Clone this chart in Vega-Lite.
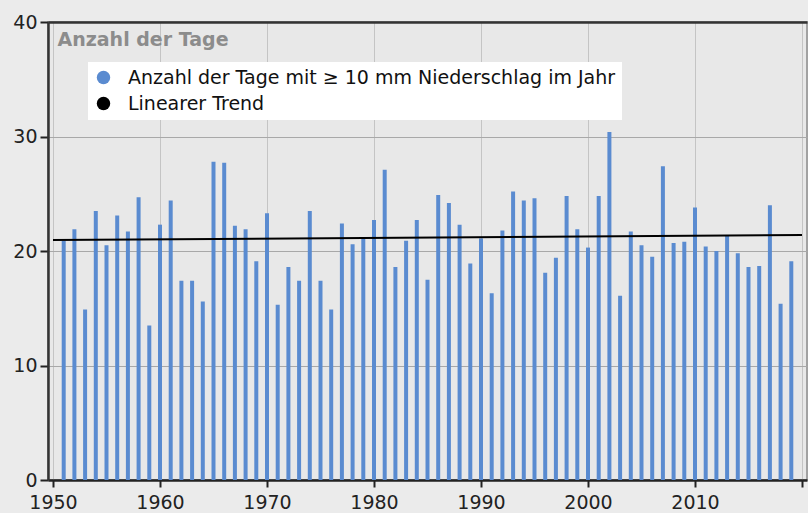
{
  "$schema": "https://vega.github.io/schema/vega-lite/v6.json",
  "width": 759,
  "height": 458,
  "autosize": {"type": "none"},
  "padding": {"left": 48, "top": 22, "right": 1, "bottom": 33},
  "background": "#ebebeb",
  "config": {
    "font": "DejaVu Sans",
    "view": {"fill": "#e8e8e8", "stroke": "#8a8a8a", "strokeWidth": 1.5}
  },
  "datasets": {
    "bars": [
      {"Jahr": 1951, "Tage": 20.9, "Serie": "Anzahl der Tage mit ≥ 10 mm Niederschlag im Jahr"},
      {"Jahr": 1952, "Tage": 21.9, "Serie": "Anzahl der Tage mit ≥ 10 mm Niederschlag im Jahr"},
      {"Jahr": 1953, "Tage": 14.9, "Serie": "Anzahl der Tage mit ≥ 10 mm Niederschlag im Jahr"},
      {"Jahr": 1954, "Tage": 23.5, "Serie": "Anzahl der Tage mit ≥ 10 mm Niederschlag im Jahr"},
      {"Jahr": 1955, "Tage": 20.5, "Serie": "Anzahl der Tage mit ≥ 10 mm Niederschlag im Jahr"},
      {"Jahr": 1956, "Tage": 23.1, "Serie": "Anzahl der Tage mit ≥ 10 mm Niederschlag im Jahr"},
      {"Jahr": 1957, "Tage": 21.7, "Serie": "Anzahl der Tage mit ≥ 10 mm Niederschlag im Jahr"},
      {"Jahr": 1958, "Tage": 24.7, "Serie": "Anzahl der Tage mit ≥ 10 mm Niederschlag im Jahr"},
      {"Jahr": 1959, "Tage": 13.5, "Serie": "Anzahl der Tage mit ≥ 10 mm Niederschlag im Jahr"},
      {"Jahr": 1960, "Tage": 22.3, "Serie": "Anzahl der Tage mit ≥ 10 mm Niederschlag im Jahr"},
      {"Jahr": 1961, "Tage": 24.4, "Serie": "Anzahl der Tage mit ≥ 10 mm Niederschlag im Jahr"},
      {"Jahr": 1962, "Tage": 17.4, "Serie": "Anzahl der Tage mit ≥ 10 mm Niederschlag im Jahr"},
      {"Jahr": 1963, "Tage": 17.4, "Serie": "Anzahl der Tage mit ≥ 10 mm Niederschlag im Jahr"},
      {"Jahr": 1964, "Tage": 15.6, "Serie": "Anzahl der Tage mit ≥ 10 mm Niederschlag im Jahr"},
      {"Jahr": 1965, "Tage": 27.8, "Serie": "Anzahl der Tage mit ≥ 10 mm Niederschlag im Jahr"},
      {"Jahr": 1966, "Tage": 27.7, "Serie": "Anzahl der Tage mit ≥ 10 mm Niederschlag im Jahr"},
      {"Jahr": 1967, "Tage": 22.2, "Serie": "Anzahl der Tage mit ≥ 10 mm Niederschlag im Jahr"},
      {"Jahr": 1968, "Tage": 21.9, "Serie": "Anzahl der Tage mit ≥ 10 mm Niederschlag im Jahr"},
      {"Jahr": 1969, "Tage": 19.1, "Serie": "Anzahl der Tage mit ≥ 10 mm Niederschlag im Jahr"},
      {"Jahr": 1970, "Tage": 23.3, "Serie": "Anzahl der Tage mit ≥ 10 mm Niederschlag im Jahr"},
      {"Jahr": 1971, "Tage": 15.3, "Serie": "Anzahl der Tage mit ≥ 10 mm Niederschlag im Jahr"},
      {"Jahr": 1972, "Tage": 18.6, "Serie": "Anzahl der Tage mit ≥ 10 mm Niederschlag im Jahr"},
      {"Jahr": 1973, "Tage": 17.4, "Serie": "Anzahl der Tage mit ≥ 10 mm Niederschlag im Jahr"},
      {"Jahr": 1974, "Tage": 23.5, "Serie": "Anzahl der Tage mit ≥ 10 mm Niederschlag im Jahr"},
      {"Jahr": 1975, "Tage": 17.4, "Serie": "Anzahl der Tage mit ≥ 10 mm Niederschlag im Jahr"},
      {"Jahr": 1976, "Tage": 14.9, "Serie": "Anzahl der Tage mit ≥ 10 mm Niederschlag im Jahr"},
      {"Jahr": 1977, "Tage": 22.4, "Serie": "Anzahl der Tage mit ≥ 10 mm Niederschlag im Jahr"},
      {"Jahr": 1978, "Tage": 20.6, "Serie": "Anzahl der Tage mit ≥ 10 mm Niederschlag im Jahr"},
      {"Jahr": 1979, "Tage": 21.1, "Serie": "Anzahl der Tage mit ≥ 10 mm Niederschlag im Jahr"},
      {"Jahr": 1980, "Tage": 22.7, "Serie": "Anzahl der Tage mit ≥ 10 mm Niederschlag im Jahr"},
      {"Jahr": 1981, "Tage": 27.1, "Serie": "Anzahl der Tage mit ≥ 10 mm Niederschlag im Jahr"},
      {"Jahr": 1982, "Tage": 18.6, "Serie": "Anzahl der Tage mit ≥ 10 mm Niederschlag im Jahr"},
      {"Jahr": 1983, "Tage": 20.9, "Serie": "Anzahl der Tage mit ≥ 10 mm Niederschlag im Jahr"},
      {"Jahr": 1984, "Tage": 22.7, "Serie": "Anzahl der Tage mit ≥ 10 mm Niederschlag im Jahr"},
      {"Jahr": 1985, "Tage": 17.5, "Serie": "Anzahl der Tage mit ≥ 10 mm Niederschlag im Jahr"},
      {"Jahr": 1986, "Tage": 24.9, "Serie": "Anzahl der Tage mit ≥ 10 mm Niederschlag im Jahr"},
      {"Jahr": 1987, "Tage": 24.2, "Serie": "Anzahl der Tage mit ≥ 10 mm Niederschlag im Jahr"},
      {"Jahr": 1988, "Tage": 22.3, "Serie": "Anzahl der Tage mit ≥ 10 mm Niederschlag im Jahr"},
      {"Jahr": 1989, "Tage": 18.9, "Serie": "Anzahl der Tage mit ≥ 10 mm Niederschlag im Jahr"},
      {"Jahr": 1990, "Tage": 21.1, "Serie": "Anzahl der Tage mit ≥ 10 mm Niederschlag im Jahr"},
      {"Jahr": 1991, "Tage": 16.3, "Serie": "Anzahl der Tage mit ≥ 10 mm Niederschlag im Jahr"},
      {"Jahr": 1992, "Tage": 21.8, "Serie": "Anzahl der Tage mit ≥ 10 mm Niederschlag im Jahr"},
      {"Jahr": 1993, "Tage": 25.2, "Serie": "Anzahl der Tage mit ≥ 10 mm Niederschlag im Jahr"},
      {"Jahr": 1994, "Tage": 24.4, "Serie": "Anzahl der Tage mit ≥ 10 mm Niederschlag im Jahr"},
      {"Jahr": 1995, "Tage": 24.6, "Serie": "Anzahl der Tage mit ≥ 10 mm Niederschlag im Jahr"},
      {"Jahr": 1996, "Tage": 18.1, "Serie": "Anzahl der Tage mit ≥ 10 mm Niederschlag im Jahr"},
      {"Jahr": 1997, "Tage": 19.4, "Serie": "Anzahl der Tage mit ≥ 10 mm Niederschlag im Jahr"},
      {"Jahr": 1998, "Tage": 24.8, "Serie": "Anzahl der Tage mit ≥ 10 mm Niederschlag im Jahr"},
      {"Jahr": 1999, "Tage": 21.9, "Serie": "Anzahl der Tage mit ≥ 10 mm Niederschlag im Jahr"},
      {"Jahr": 2000, "Tage": 20.3, "Serie": "Anzahl der Tage mit ≥ 10 mm Niederschlag im Jahr"},
      {"Jahr": 2001, "Tage": 24.8, "Serie": "Anzahl der Tage mit ≥ 10 mm Niederschlag im Jahr"},
      {"Jahr": 2002, "Tage": 30.4, "Serie": "Anzahl der Tage mit ≥ 10 mm Niederschlag im Jahr"},
      {"Jahr": 2003, "Tage": 16.1, "Serie": "Anzahl der Tage mit ≥ 10 mm Niederschlag im Jahr"},
      {"Jahr": 2004, "Tage": 21.7, "Serie": "Anzahl der Tage mit ≥ 10 mm Niederschlag im Jahr"},
      {"Jahr": 2005, "Tage": 20.5, "Serie": "Anzahl der Tage mit ≥ 10 mm Niederschlag im Jahr"},
      {"Jahr": 2006, "Tage": 19.5, "Serie": "Anzahl der Tage mit ≥ 10 mm Niederschlag im Jahr"},
      {"Jahr": 2007, "Tage": 27.4, "Serie": "Anzahl der Tage mit ≥ 10 mm Niederschlag im Jahr"},
      {"Jahr": 2008, "Tage": 20.7, "Serie": "Anzahl der Tage mit ≥ 10 mm Niederschlag im Jahr"},
      {"Jahr": 2009, "Tage": 20.8, "Serie": "Anzahl der Tage mit ≥ 10 mm Niederschlag im Jahr"},
      {"Jahr": 2010, "Tage": 23.8, "Serie": "Anzahl der Tage mit ≥ 10 mm Niederschlag im Jahr"},
      {"Jahr": 2011, "Tage": 20.4, "Serie": "Anzahl der Tage mit ≥ 10 mm Niederschlag im Jahr"},
      {"Jahr": 2012, "Tage": 20.0, "Serie": "Anzahl der Tage mit ≥ 10 mm Niederschlag im Jahr"},
      {"Jahr": 2013, "Tage": 21.3, "Serie": "Anzahl der Tage mit ≥ 10 mm Niederschlag im Jahr"},
      {"Jahr": 2014, "Tage": 19.8, "Serie": "Anzahl der Tage mit ≥ 10 mm Niederschlag im Jahr"},
      {"Jahr": 2015, "Tage": 18.6, "Serie": "Anzahl der Tage mit ≥ 10 mm Niederschlag im Jahr"},
      {"Jahr": 2016, "Tage": 18.7, "Serie": "Anzahl der Tage mit ≥ 10 mm Niederschlag im Jahr"},
      {"Jahr": 2017, "Tage": 24.0, "Serie": "Anzahl der Tage mit ≥ 10 mm Niederschlag im Jahr"},
      {"Jahr": 2018, "Tage": 15.4, "Serie": "Anzahl der Tage mit ≥ 10 mm Niederschlag im Jahr"},
      {"Jahr": 2019, "Tage": 19.1, "Serie": "Anzahl der Tage mit ≥ 10 mm Niederschlag im Jahr"}
    ],
    "trend": [
      {"Jahr": 1950, "Tage": 20.95, "Serie": "Linearer Trend"},
      {"Jahr": 2020, "Tage": 21.4, "Serie": "Linearer Trend"}
    ]
  },
  "resolve": {"axis": {"x": "independent"}},
  "layer": [
    {
      "data": {"name": "bars"},
      "mark": {"type": "bar", "orient": "vertical", "size": 4},
      "encoding": {
        "x": {
          "field": "Jahr",
          "type": "quantitative",
          "scale": {"domain": [1950, 2020], "nice": false, "zero": false},
          "axis": {
            "title": null,
            "values": [1950, 1960, 1970, 1980, 1990, 2000, 2010, 2020],
            "format": "d",
            "labelExpr": "datum.value == 2020 ? '' : datum.label",
            "labelFontSize": 19,
            "labelColor": "#222222",
            "labelPadding": 6,
            "tickSize": 7,
            "tickWidth": 2,
            "tickColor": "#222222",
            "domainColor": "#222222",
            "domainWidth": 2.5,
            "grid": true,
            "gridColor": "#c4c4c4",
            "gridWidth": 1
          }
        },
        "y": {
          "field": "Tage",
          "type": "quantitative",
          "scale": {"domain": [0, 40], "nice": false},
          "axis": {
            "title": "Anzahl der Tage",
            "titleAngle": 0,
            "titleAlign": "left",
            "titleBaseline": "alphabetic",
            "titleX": 9,
            "titleY": 23,
            "titleFontSize": 19,
            "titleFontWeight": "bold",
            "titleColor": "#8c8c8c",
            "values": [0, 10, 20, 30, 40],
            "labelFontSize": 19,
            "labelColor": "#222222",
            "labelPadding": 3,
            "tickSize": 8,
            "tickWidth": 2,
            "tickColor": "#222222",
            "domainColor": "#333333",
            "domainWidth": 2.5,
            "grid": true,
            "gridColor": "#a8a8a8",
            "gridWidth": 1
          }
        },
        "color": {
          "field": "Serie",
          "type": "nominal",
          "scale": {
            "domain": ["Anzahl der Tage mit ≥ 10 mm Niederschlag im Jahr", "Linearer Trend"],
            "range": ["#5a8bd0", "#000000"]
          },
          "legend": {
            "title": null,
            "orient": "none",
            "legendX": 40,
            "legendY": 40,
            "fillColor": "#ffffff",
            "padding": 6,
            "symbolType": "circle",
            "symbolSize": 180,
            "symbolStrokeWidth": 0,
            "labelFontSize": 19,
            "labelColor": "#111111",
            "labelOffset": 15,
            "rowPadding": 6,
            "labelLimit": 700
          }
        }
      }
    },
    {
      "data": {"name": "trend"},
      "mark": {"type": "line", "strokeWidth": 2},
      "encoding": {
        "x": {
          "field": "Jahr",
          "type": "quantitative",
          "axis": {
            "orient": "top",
            "title": null,
            "labels": false,
            "ticks": false,
            "grid": false,
            "domainColor": "#333333",
            "domainWidth": 2.5
          }
        },
        "y": {"field": "Tage", "type": "quantitative"},
        "color": {"field": "Serie", "type": "nominal"}
      }
    }
  ]
}
